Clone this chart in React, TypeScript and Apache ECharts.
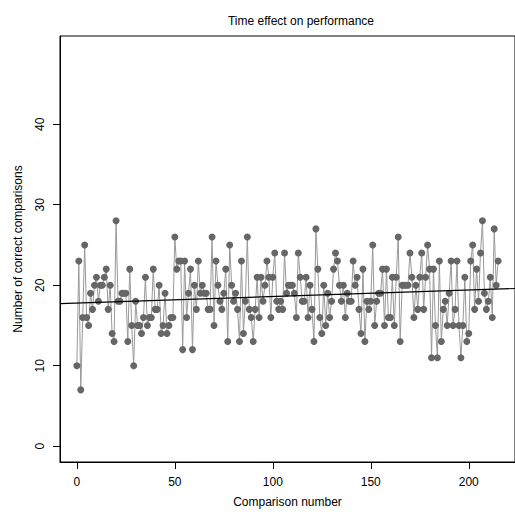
import React, { useEffect, useRef } from "react";
import * as echarts from "echarts";

// Number of correct comparisons, in comparison order (comparison number 0..215)
const correctCounts: number[] = [
  10, 23, 7, 16, 25, 16, 15, 19, 17, 20, 21, 18, 20, 20, 21, 22, 17, 20, 14, 13, 28,
  18, 18, 19, 19, 19, 13, 22, 15, 10,
  18, 15, 15, 14, 16, 21, 15, 16, 16, 22, 17, 17, 20, 14, 15, 19, 14, 15, 16, 16,
  26, 22, 23, 23, 12, 23, 16, 19, 22, 12, 20, 17, 23, 19, 20, 19, 19, 17, 17, 26,
  15, 23, 20, 18, 17, 19, 22, 13, 25, 20, 18, 19, 17, 13, 23, 14, 18, 26, 17, 16,
  13, 17, 21, 16, 21, 18, 20, 23, 21, 16, 21, 24, 18, 17, 18, 17,
  24, 19, 20, 20, 20, 19, 16, 24, 21, 18, 18, 21, 16, 20, 17, 13, 27, 22, 16, 14,
  20, 15, 19, 16, 18, 22, 24, 23, 20, 18, 20, 16, 19, 18, 18, 23, 20, 21, 17, 14, 22, 13,
  18, 17, 18, 25, 15, 18, 19, 19, 22, 15, 22, 16, 16, 21, 15, 21, 26, 13,
  20, 20, 20, 20, 24, 21, 16, 20, 17, 21, 24, 17, 21, 25, 22, 11, 22, 15, 11, 23,
  13, 17, 18, 15, 19, 23, 15, 17, 23, 15, 11, 15, 21, 13, 14, 23, 25, 17, 22, 18, 24, 28, 19, 17, 18, 21, 16, 27, 20, 23,
];

// Fitted trend line (intercept, slope)
const fitIntercept = 17.78;
const fitSlope = 0.0081;

const xTickLabels: number[] = [0, 50, 100, 150, 200];
const yTickLabels: number[] = [0, 10, 20, 30, 40];

const TITLE = "Time effect on performance";
const X_NAME = "Comparison number";
const Y_NAME = "Number of correct comparisons";

export default function App() {
  const ref = useRef<HTMLDivElement>(null);

  useEffect(() => {
    if (!ref.current) return;
    const chart = echarts.init(ref.current, undefined, { renderer: "svg" });
    const n = correctCounts.length;
    const xPad = 0.04 * (n - 1);
    const xMin = -xPad;
    const xMax = n - 1 + xPad;
    const yTop = 49;
    const yMin = -0.04 * yTop;
    const yMax = yTop * 1.04;
    const font = "Liberation Sans, Arial, Helvetica, sans-serif";

    chart.setOption({
      animation: false,
      backgroundColor: "#ffffff",
      textStyle: { fontFamily: font },
      title: {
        text: TITLE,
        left: 296,
        top: 10,
        textAlign: "center",
        textStyle: { fontFamily: font, fontSize: 12, fontWeight: "normal", color: "#000" },
      },
      grid: {
        left: 60,
        top: 36,
        width: 458,
        height: 426,
        show: true,
        borderColor: "#000",
        borderWidth: 1,
        backgroundColor: "transparent",
      },
      xAxis: {
        type: "value",
        min: xMin,
        max: xMax,
        name: X_NAME,
        nameLocation: "middle",
        nameGap: 34,
        nameTextStyle: { fontFamily: font, fontSize: 12, color: "#000" },
        axisLine: { show: true, onZero: false, lineStyle: { color: "#000", width: 1 } },
        axisTick: { show: true, inside: false, length: 7, customValues: xTickLabels, lineStyle: { color: "#000" } },
        axisLabel: { customValues: xTickLabels, margin: 14, fontSize: 12, color: "#000", fontFamily: font },
        splitLine: { show: false },
      },
      yAxis: {
        type: "value",
        min: yMin,
        max: yMax,
        name: Y_NAME,
        nameLocation: "middle",
        nameRotate: 90,
        nameGap: 36,
        nameTextStyle: { fontFamily: font, fontSize: 12, color: "#000" },
        axisLine: { show: true, onZero: false, lineStyle: { color: "#000", width: 1 } },
        axisTick: { show: true, inside: false, length: 7, customValues: yTickLabels, lineStyle: { color: "#000" } },
        axisLabel: { customValues: yTickLabels, rotate: 90, margin: 14, fontSize: 12, color: "#000", fontFamily: font },
        splitLine: { show: false },
      },
      series: [
        {
          type: "line",
          data: correctCounts.map((v, i) => [i, v]),
          symbol: "circle",
          symbolSize: 7,
          showSymbol: true,
          itemStyle: { color: "#666666", borderWidth: 0 },
          lineStyle: { color: "#999999", width: 1 },
          z: 2,
        },
        {
          type: "line",
          data: [
            [xMin, fitIntercept + fitSlope * xMin],
            [xMax, fitIntercept + fitSlope * xMax],
          ],
          symbol: "none",
          lineStyle: { color: "#000000", width: 1.2 },
          z: 3,
        },
      ],
    });
    return () => chart.dispose();
  }, []);

  return (
    <div
      ref={ref}
      style={{ position: "fixed", left: 0, top: 0, width: 515, height: 515, background: "#fff" }}
    />
  );
}
